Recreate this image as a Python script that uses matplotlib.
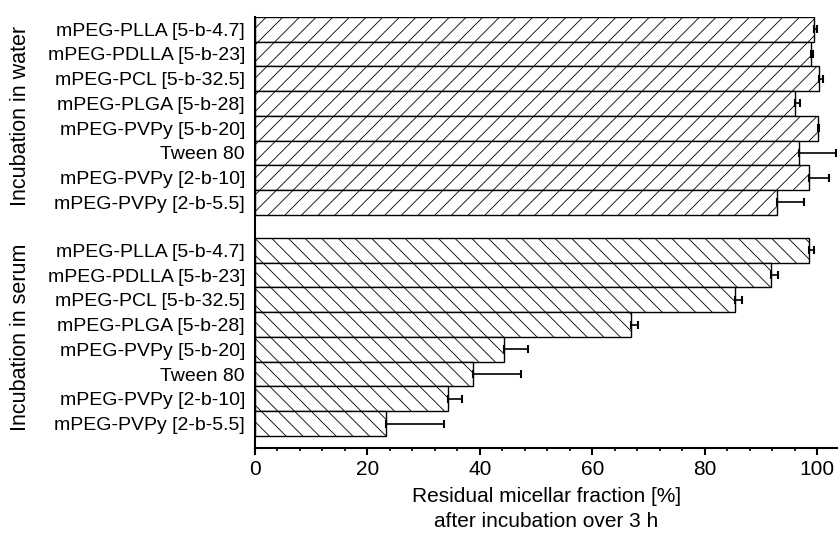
import numpy as np
import matplotlib
matplotlib.use("Agg")
import matplotlib.pyplot as plt
from matplotlib.ticker import MultipleLocator

plt.rcParams["font.family"] = ["Liberation Sans", "DejaVu Sans"]
plt.rcParams["hatch.linewidth"] = 0.6

# sample names, listed top to bottom within each group
labels = ["mPEG-PLLA [5-b-4.7]", "mPEG-PDLLA [5-b-23]", "mPEG-PCL [5-b-32.5]",
          "mPEG-PLGA [5-b-28]", "mPEG-PVPy [5-b-20]", "Tween 80",
          "mPEG-PVPy [2-b-10]", "mPEG-PVPy [2-b-5.5]"]

# residual micellar fraction [%] after 3 h
water_mean = [99.4, 98.9, 100.3, 96.1, 100.2, 96.7, 98.6, 92.8]
water_err = [0.5, 0.4, 0.7, 0.9, 0.2, 6.7, 3.5, 4.9]
serum_mean = [98.5, 91.7, 85.4, 66.9, 44.4, 38.8, 34.3, 23.3]
serum_err = [1.0, 1.3, 1.3, 1.2, 4.1, 8.5, 2.5, 10.4]

n = len(labels)
gap = 8.94
y_serum = np.arange(n)[::-1].astype(float)
y_water = y_serum + gap

fig = plt.figure(figsize=(8.38, 5.44), dpi=100)
ax = fig.add_axes([0.304, 0.176, 0.696, 0.793])

ax.barh(y_water, water_mean, height=1.0, color="white", edgecolor="black",
        linewidth=1.0, hatch="//")
ax.barh(y_serum, serum_mean, height=1.0, color="white", edgecolor="black",
        linewidth=1.0, hatch="\\\\")

zeros = np.zeros(n)
ax.errorbar(water_mean, y_water, xerr=[zeros, water_err], fmt="none",
            ecolor="black", elinewidth=1.2, capsize=3, capthick=1.5)
ax.errorbar(serum_mean, y_serum, xerr=[zeros, serum_err], fmt="none",
            ecolor="black", elinewidth=1.2, capsize=3, capthick=1.5)

ax.set_yticks(np.concatenate([y_water, y_serum]))
ax.set_yticklabels(labels + labels, fontsize=14)
ax.tick_params(axis="y", length=0, pad=7)

ax.set_xlim(0, 103.7)
ax.set_ylim(-1.0, y_water[0] + 0.5)
ax.xaxis.set_major_locator(MultipleLocator(20))
ax.xaxis.set_minor_locator(MultipleLocator(4))
ax.tick_params(axis="x", which="major", length=5, width=1.5, labelsize=15,
               direction="out")
ax.tick_params(axis="x", which="minor", length=2.5, width=1.2,
               direction="out")

for side in ["top", "right"]:
    ax.spines[side].set_visible(False)
for side in ["left", "bottom"]:
    ax.spines[side].set_linewidth(1.5)

ax.set_xlabel("Residual micellar fraction [%]\nafter incubation over 3 h",
              fontsize=15, labelpad=6, linespacing=1.35)

# group titles on the far left
fig.text(0.025, ax.transData.transform((0, y_water.mean()))[1] / fig.bbox.height,
         "Incubation in water", rotation=90, va="center", ha="center",
         fontsize=15.5)
fig.text(0.025, ax.transData.transform((0, y_serum.mean()))[1] / fig.bbox.height,
         "Incubation in serum", rotation=90, va="center", ha="center",
         fontsize=15.5)

plt.savefig("out.png", dpi=100)
